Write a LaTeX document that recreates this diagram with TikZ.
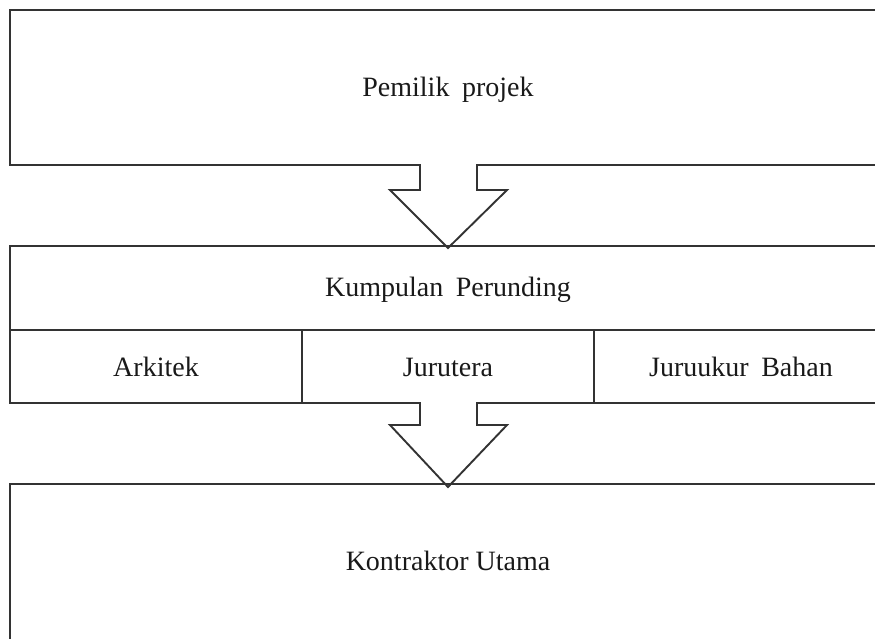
\documentclass[tikz,border=0pt]{standalone}
\usepackage{fontspec}
\setmainfont{Liberation Serif}
\begin{document}
\begin{tikzpicture}[x=1pt,y=-1pt,
  outline/.style={draw=black!80, line width=1.9pt, line join=miter},
  label/.style={inner sep=0pt, anchor=base, font=\fontsize{28}{32}\selectfont, text=black!90}]
\useasboundingbox (0,0) rectangle (875,638);
\clip (0,0) rectangle (875,638);
% top box with arrow
\draw[outline] (890,10) -- (10,10) -- (10,165) -- (420,165) -- (420,190) -- (390,190)
  -- (448,248) -- (507,190) -- (477,190) -- (477,165) -- (890,165);
% middle box with arrow
\draw[outline] (890,246) -- (10,246) -- (10,403) -- (420,403) -- (420,425) -- (390,425)
  -- (448,487) -- (507,425) -- (477,425) -- (477,403) -- (890,403);
\draw[outline] (10,330) -- (890,330);
\draw[outline] (302,330) -- (302,403);
\draw[outline] (594,330) -- (594,403);
% bottom box
\draw[outline] (890,484) -- (10,484) -- (10,700);
% texts
\node[label] (owner) at (448,96) {Pemilik\hspace{0.2em} projek};
\node[label] (kp) at (448,296) {Kumpulan\hspace{0.2em} Perunding};
\node[label] (ark) at (156,376.5) {Arkitek};
\node[label] (jur) at (448,376.5) {Jurutera};
\node[label] (jb) at (741,376.5) {Juruukur\hspace{0.2em} Bahan};
\node[label] (ku) at (448,570) {Kontraktor Utama};
\end{tikzpicture}
\end{document}
